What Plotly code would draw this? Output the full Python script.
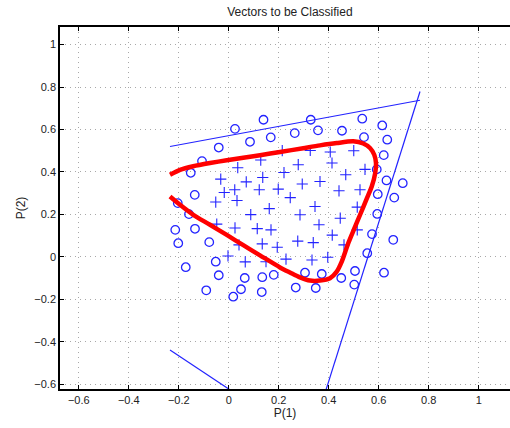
import numpy as np
import plotly.graph_objects as go

# Input vectors of class 0 (drawn as circles)
class0_x = [0.025, 0.139, 0.085, 0.168, -0.040, -0.107, -0.152, -0.136, -0.204,
            0.328, 0.534, 0.614, 0.264, 0.357, 0.453, 0.541, 0.634, 0.620, 0.592,
            0.631, 0.696, 0.596, 0.662, -0.159, -0.214, -0.135, -0.202, -0.078,
            -0.172, -0.052, -0.040, 0.064, 0.134, 0.180, -0.090, 0.049, 0.018,
            0.132, 0.594, 0.573, 0.658, 0.554, 0.621, 0.505, 0.450, 0.502, 0.372,
            0.305, 0.268, 0.348]
class0_y = [0.603, 0.646, 0.542, 0.563, 0.515, 0.451, 0.396, 0.292, 0.253,
            0.646, 0.651, 0.619, 0.583, 0.596, 0.594, 0.564, 0.552, 0.479, 0.412,
            0.360, 0.347, 0.295, 0.279, 0.201, 0.127, 0.132, 0.064, 0.069,
            -0.049, -0.023, -0.087, -0.100, -0.096, -0.085, -0.158, -0.153, -0.188,
            -0.166, 0.202, 0.107, 0.080, 0.017, -0.075, -0.067, -0.100, -0.131, -0.081,
            -0.075, -0.145, -0.147]

# Input vectors of class 1 (drawn as plus signs)
class1_x = [0.128, 0.036, -0.032, 0.070, 0.136, -0.018, 0.024, 0.122, 0.198, -0.052,
            0.033, 0.162, 0.214, 0.326, 0.406, 0.500, 0.278, 0.413, 0.221, 0.468,
            0.545, 0.294, 0.365, 0.441, 0.525, 0.246, 0.345, 0.514, 0.088, -0.048,
            0.025, 0.114, 0.169, 0.041, 0.134, 0.194, -0.003, 0.066, 0.149, 0.285,
            0.446, 0.361, 0.414, 0.514, 0.276, 0.338, 0.461, 0.229, 0.333, 0.396]
class1_y = [0.456, 0.420, 0.366, 0.353, 0.374, 0.303, 0.316, 0.316, 0.319, 0.258,
            0.265, 0.227, 0.500, 0.501, 0.494, 0.500, 0.434, 0.442, 0.397, 0.387,
            0.412, 0.343, 0.355, 0.311, 0.316, 0.279, 0.237, 0.234, 0.199, 0.154,
            0.136, 0.133, 0.127, 0.056, 0.061, 0.045, 0.004, -0.024, -0.023, 0.198,
            0.182, 0.151, 0.102, 0.127, 0.074, 0.067, 0.056, -0.011, -0.015, -0.002]

# Hidden-layer decision lines: w1*x + w2*y + b = 0
line_w = [[-0.218, 1.0], [-3.74, 1.0], [0.78, 1.0]]
line_b = [-0.571, 2.082, 0.623]
line_x_span = [-0.235, 0.765]

# Network output decision boundary
boundary_x = [-0.235, -0.195, -0.142, -0.075, -0.008, 0.058, 0.125, 0.205, 0.298,
              0.365, 0.432, 0.498, 0.538, 0.565, 0.582, 0.589, 0.586, 0.572, 0.552,
              0.525, 0.505, 0.478, 0.452, 0.432, 0.405, 0.365, 0.325, 0.285, 0.245,
              0.205, 0.125, 0.058, -0.008, -0.075, -0.142, -0.195, -0.235]
boundary_y = [0.387, 0.410, 0.427, 0.442, 0.455, 0.467, 0.479, 0.494, 0.512,
              0.525, 0.536, 0.544, 0.534, 0.513, 0.481, 0.442, 0.395, 0.331, 0.274,
              0.197, 0.141, 0.064, -0.023, -0.070, -0.101, -0.112, -0.112, -0.097, -0.074,
              -0.050, 0.007, 0.055, 0.103, 0.151, 0.198, 0.245, 0.284]

tick_vals = [-0.6, -0.4, -0.2, 0, 0.2, 0.4, 0.6, 0.8, 1]
tick_text = ["\u22120.6", "\u22120.4", "\u22120.2", "0", "0.2", "0.4", "0.6", "0.8", "1"]

BLUE = "#2323ff"
FONT = "Liberation Sans, Arial, sans-serif"

fig = go.Figure()

fig.add_trace(go.Scatter(
    x=class0_x, y=class0_y, mode="markers",
    marker=dict(symbol="circle-open", size=8.5, color=BLUE, line=dict(width=1.3, color=BLUE)),
    hoverinfo="skip", showlegend=False))

fig.add_trace(go.Scatter(
    x=class1_x, y=class1_y, mode="markers",
    marker=dict(symbol="cross-thin-open", size=8, color=BLUE, line=dict(width=1.1, color=BLUE)),
    hoverinfo="skip", showlegend=False))

xs = np.array(line_x_span)
for (w1, w2), b in zip(line_w, line_b):
    ys = (-b - w1 * xs) / w2
    fig.add_trace(go.Scatter(
        x=xs, y=ys, mode="lines", line=dict(color=BLUE, width=1.2),
        hoverinfo="skip", showlegend=False))

fig.add_trace(go.Scatter(
    x=boundary_x, y=boundary_y, mode="lines",
    line=dict(color="#ff0000", width=4.5, shape="spline", smoothing=0.7),
    hoverinfo="skip", showlegend=False))

axis_common = dict(
    tickvals=tick_vals, ticktext=tick_text,
    ticks="inside", ticklen=4, tickcolor="black", tickwidth=1,
    showline=True, linecolor="black", linewidth=1.6,
    showgrid=True, gridcolor="#a8a8a8", griddash="1px,4px", gridwidth=1,
    zeroline=False,
    tickfont=dict(family=FONT, size=11, color="#222222"),
)

fig.update_layout(
    width=510, height=428,
    margin=dict(l=60, r=0, t=27, b=39),
    paper_bgcolor="white", plot_bgcolor="white",
    title=dict(text="Vectors to be Classified", x=0.511, xref="paper", xanchor="center",
               y=0.972, yref="container", yanchor="middle",
               font=dict(family=FONT, size=12, color="#222222")),
    xaxis=dict(axis_common, range=[-0.675, 1.125], mirror="ticks",
               title=dict(text="P(1)", standoff=4, font=dict(family=FONT, size=12, color="#222222"))),
    yaxis=dict(axis_common, range=[-0.623, 1.083], mirror=False,
               title=dict(text="P(2)", standoff=6, font=dict(family=FONT, size=12, color="#222222"))),
)

fig.write_html("out.html")
